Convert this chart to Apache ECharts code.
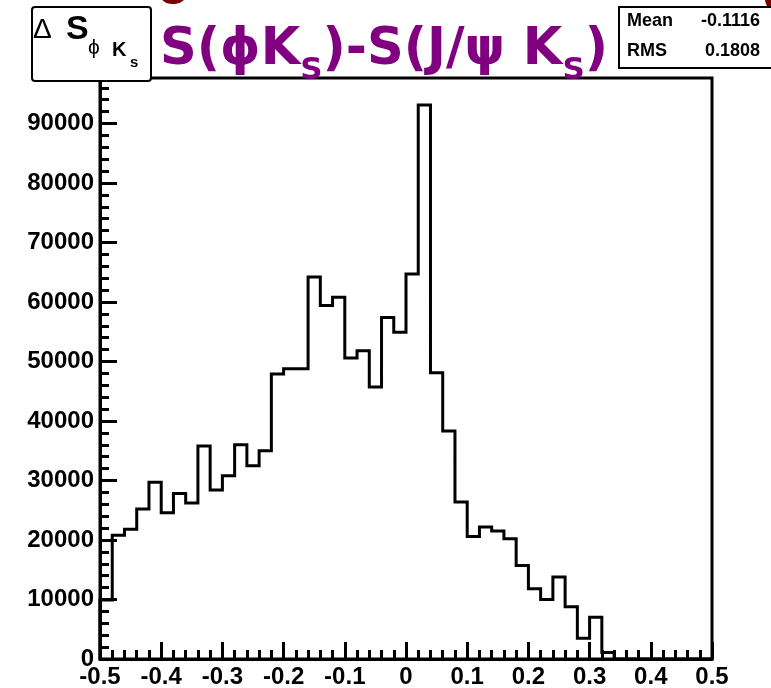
<!DOCTYPE html>
<html>
<head>
<meta charset="utf-8">
<script src="https://cdn.jsdelivr.net/npm/echarts@6/dist/echarts.min.js"></script>
<style>
  html, body { margin: 0; padding: 0; background: #fff; }
  #chart { width: 771px; height: 688px; }
</style>
</head>
<body>
<div id="chart"></div>
<script>
// Histogram of the difference S(phi Ks) - S(J/psi Ks): 50 bins of width 0.02 on [-0.5, 0.5]
const binStart = -0.5;
const binWidth = 0.02;
const binCounts = [
  9900, 20800, 21800, 25200, 29700, 24600, 27800, 26200, 35800, 28400,
  30800, 36000, 32500, 35000, 47900, 48800, 48800, 64200, 59400, 60800,
  50600, 51800, 45700, 57400, 54900, 64700, 93100, 48100, 38300, 26400,
  20600, 22200, 21500, 20200, 15700, 11800, 10000, 13800, 8800, 3500,
  7000, 1100, 0, 0, 0, 0, 0, 0, 0, 0
];
// Statistics box entries
const statNames = ['Mean', 'RMS'];
const statValues = ['-0.1116', '0.1808'];
// Axis ranges
const xRange = [-0.5, 0.5];
const yRange = [0, 97650];

// Outline of the histogram as a step line through the bin edges
const outline = [[binStart, 0]];
binCounts.forEach((c, i) => {
  outline.push([+(binStart + i * binWidth).toFixed(4), c]);
});
outline.push([xRange[1], binCounts[binCounts.length - 1]]);
outline.push([xRange[1], 0]);

const LABEL_FONT = 'Liberation Sans, Arial, Helvetica, sans-serif';
const chart = echarts.init(document.getElementById('chart'), null, { renderer: 'canvas' });

const axisLabelStyle = {
  color: '#000', fontFamily: LABEL_FONT, fontWeight: 'bold', fontSize: 24
};

chart.setOption({
  animation: false,
  backgroundColor: '#fff',
  grid: {
    left: 100, right: 59, top: 78, bottom: 29,
    outerBoundsMode: 'none', containLabel: false,
    show: true, borderColor: '#000', borderWidth: 3, backgroundColor: 'transparent'
  },
  title: {
    left: 160, top: 25, padding: 0,
    text: '{m|S(ϕK}{s|S}{m|)-S(J/ψ K}{s|S}{m|)}',
    textStyle: {
      rich: {
        m: { fontFamily: 'DejaVu Sans', fontWeight: 'bold', fontSize: 51, lineHeight: 56,
             color: '#800080', verticalAlign: 'top' },
        s: { fontFamily: 'DejaVu Sans', fontWeight: 'bold', fontSize: 31, lineHeight: 30,
             padding: [30, 0, 0, 0], color: '#800080', verticalAlign: 'top' }
      }
    }
  },
  xAxis: {
    type: 'value', min: xRange[0], max: xRange[1], interval: 0.1,
    axisLine: { show: true, onZero: false, lineStyle: { color: '#000', width: 3 } },
    axisTick: { show: true, inside: true, length: 17, lineStyle: { color: '#000', width: 3 } },
    minorTick: { show: true, splitNumber: 5, length: 9, lineStyle: { color: '#000', width: 3 } },
    splitLine: { show: false },
    axisLabel: Object.assign({
      margin: 6,
      formatter: v => {
        const r = Math.round(v * 10) / 10;
        return r === 0 ? '0' : r.toFixed(1);
      }
    }, axisLabelStyle)
  },
  yAxis: [
    {
      type: 'value', min: yRange[0], max: yRange[1], interval: 10000, position: 'left',
      axisLine: { show: true, onZero: false, lineStyle: { color: '#000', width: 3 } },
      axisTick: { show: true, inside: true, length: 17, lineStyle: { color: '#000', width: 3 } },
      splitLine: { show: false },
      axisLabel: Object.assign({ margin: 6, showMaxLabel: false, formatter: v => String(v) }, axisLabelStyle)
    },
    {
      type: 'value', min: yRange[0], max: yRange[1], interval: 2000, position: 'left', offset: 0,
      axisLine: { show: false, onZero: false },
      axisTick: { show: true, inside: true, length: 9, lineStyle: { color: '#000', width: 3 } },
      splitLine: { show: false },
      axisLabel: { show: false }
    }
  ],
  series: [{
    type: 'line',
    step: 'end',
    data: outline,
    showSymbol: false,
    clip: false,
    z: 5,
    lineStyle: { color: '#000', width: 3, join: 'miter' }
  }],
  graphic: [
    // dark red fragments along the top edge
    { type: 'ellipse', shape: { cx: 173, cy: -3, rx: 12, ry: 7 }, style: { fill: '#7a0000' }, z: 50 },
    { type: 'circle', shape: { cx: 778, cy: -1, r: 13 }, style: { fill: '#7a0000' }, z: 50 },
    // variable name box
    { type: 'rect', shape: { x: 32, y: 7, width: 119, height: 74, r: 3 },
      style: { fill: '#fff', stroke: '#000', lineWidth: 2 }, z: 100 },
    { type: 'text', z: 101, style: { x: 33, y: 30, text: 'Δ', fill: '#000',
      font: '28px Liberation Sans', verticalAlign: 'middle' } },
    { type: 'text', z: 101, style: { x: 66, y: 30, text: 'S', fill: '#000',
      font: 'bold 34px Liberation Sans', verticalAlign: 'middle' } },
    { type: 'text', z: 101, style: { x: 88, y: 48, text: 'ϕ', fill: '#000',
      font: '21px Liberation Sans', verticalAlign: 'middle' } },
    { type: 'text', z: 101, style: { x: 112, y: 50, text: 'K', fill: '#000',
      font: 'bold 20px Liberation Sans', verticalAlign: 'middle' } },
    { type: 'text', z: 101, style: { x: 130, y: 63, text: 's', fill: '#000',
      font: 'bold 15px Liberation Sans', verticalAlign: 'middle' } },
    // statistics box
    { type: 'rect', shape: { x: 619, y: 7, width: 160, height: 61 },
      style: { fill: '#fff', stroke: '#000', lineWidth: 2 }, z: 100 },
    { type: 'text', z: 101, style: { x: 627, y: 21, text: statNames[0], fill: '#000',
      font: 'bold 18px Liberation Sans', verticalAlign: 'middle' } },
    { type: 'text', z: 101, style: { x: 760, y: 21, text: statValues[0], fill: '#000',
      font: 'bold 18px Liberation Sans', align: 'right', verticalAlign: 'middle' } },
    { type: 'text', z: 101, style: { x: 627, y: 51, text: statNames[1], fill: '#000',
      font: 'bold 18px Liberation Sans', verticalAlign: 'middle' } },
    { type: 'text', z: 101, style: { x: 760, y: 51, text: statValues[1], fill: '#000',
      font: 'bold 18px Liberation Sans', align: 'right', verticalAlign: 'middle' } }
  ]
});
</script>
</body>
</html>
